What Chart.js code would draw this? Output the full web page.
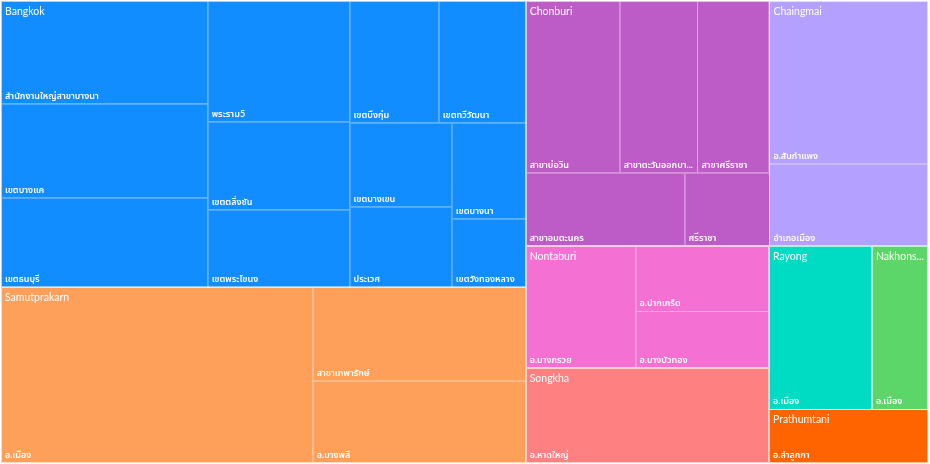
<!DOCTYPE html>
<html>
<head>
<meta charset="utf-8">
<script src="https://cdn.jsdelivr.net/npm/chart.js@4.4.1/dist/chart.umd.min.js"></script>
<style>
  html, body { margin: 0; padding: 0; background: #fff; }
  #wrap { width: 930px; height: 464px; }
</style>
</head>
<body>
<div id="wrap"><canvas id="treemap" width="930" height="464"></canvas></div>
<script>
// Province groups (order as read, largest first)
const provinces = ['Bangkok', 'Samutprakarn', 'Chonburi', 'Chaingmai', 'Nontaburi',
  'Songkha', 'Rayong', 'Nakhonsawan', 'Prathumtani'];

// Branches and their values, with the province each belongs to
const branchNames = [
  'สำนักงานใหญ่สาขาบางนา', 'เขตบางแค', 'เขตธนบุรี', 'พระราม5', 'เขตตลิ่งชัน', 'เขตพระโขนง',
  'เขตบึงกุ่ม', 'เขตทวีวัฒนา', 'เขตบางเขน', 'ประเวศ', 'เขตบางนา', 'เขตวังทองหลาง',
  'อ.เมือง', 'สาขาเทพารักษ์', 'อ.บางพลี',
  'สาขาบ่อวิน', 'สาขาตะวันออกบางนา', 'สาขาศรีราชา', 'สาขาอมตะนคร', 'ศรีราชา',
  'อ.สันกำแพง', 'อำเภอเมือง',
  'อ.บางกรวย', 'อ.ปากเกร็ด', 'อ.บางบัวทอง',
  'อ.หาดใหญ่',
  'อ.เมือง',
  'อ.เมือง',
  'อ.ลำลูกกา'
];
const branchProvince = [
  0, 0, 0, 0, 0, 0, 0, 0, 0, 0, 0, 0,
  1, 1, 1,
  2, 2, 2, 2, 2,
  3, 3,
  4, 4, 4,
  5,
  6,
  7,
  8
];
const branchValues = [
  213, 195, 186, 172, 125, 111, 109, 106, 86, 83, 71, 51,
  549, 200, 175,
  162, 134, 124, 116, 62,
  259, 130,
  135, 88, 76,
  232,
  169,
  92,
  86
];

// Colours per province
const palette = ['#118DFF', '#FFA05A', '#BE5CC7', '#B4A0FF', '#F570D3',
  '#FE8080', '#00DCC3', '#5CD668', '#FF6400'];

const W = 927;
const H = 462;
const PHI = (1 + Math.sqrt(5)) / 2;
const FONT = "'Segoe UI', Lato, 'Noto Sans Thai', 'Noto Sans', sans-serif";

/**
 * Lays out nodes in [x0,x1]x[y0,y1] with the squarified algorithm (golden ratio).
 * Each node gets x0, y0, x1, y1 set.
 */
function squarify(nodes, x0, y0, x1, y1) {
  let value = nodes.reduce((s, n) => s + n.value, 0);
  let i0 = 0, i1 = 0;
  const n = nodes.length;
  while (i0 < n) {
    const dx = x1 - x0, dy = y1 - y0;
    let sum = nodes[i1++].value;
    let minV = sum, maxV = sum;
    const alpha = Math.max(dy / dx, dx / dy) / (value * PHI);
    let beta = sum * sum * alpha;
    let minRatio = Math.max(maxV / beta, beta / minV);
    for (; i1 < n; ++i1) {
      const v = nodes[i1].value;
      sum += v;
      if (v < minV) minV = v;
      if (v > maxV) maxV = v;
      beta = sum * sum * alpha;
      const ratio = Math.max(maxV / beta, beta / minV);
      if (ratio > minRatio) { sum -= v; break; }
      minRatio = ratio;
    }
    const row = nodes.slice(i0, i1);
    if (dx < dy) {
      const yEnd = i1 < n ? y0 + dy * sum / value : y1;
      let x = x0;
      row.forEach((node, k) => {
        const nx = k === row.length - 1 ? x1 : x + dx * node.value / sum;
        Object.assign(node, { x0: x, y0, x1: nx, y1: yEnd });
        x = nx;
      });
      y0 = yEnd;
    } else {
      const xEnd = i1 < n ? x0 + dx * sum / value : x1;
      let y = y0;
      row.forEach((node, k) => {
        const ny = k === row.length - 1 ? y1 : y + dy * node.value / sum;
        Object.assign(node, { x0, y0: y, x1: xEnd, y1: ny });
        y = ny;
      });
      x0 = xEnd;
    }
    value -= sum;
    i0 = i1;
  }
}

/**
 * Builds the two-level layout from the data arrays.
 */
function buildLayout() {
  const groups = provinces.map((name, i) => {
    const children = [];
    branchNames.forEach((b, j) => {
      if (branchProvince[j] === i) children.push({ name: b, value: branchValues[j] });
    });
    children.sort((a, b) => b.value - a.value);
    return { name, color: palette[i], children, value: children.reduce((s, c) => s + c.value, 0) };
  });
  groups.sort((a, b) => b.value - a.value);
  squarify(groups, 0, 0, W, H);
  groups.forEach(g => squarify(g.children, g.x0, g.y0, g.x1, g.y1));
  return groups;
}

function fitText(ctx, text, maxWidth) {
  if (ctx.measureText(text).width <= maxWidth) return text;
  let t = text;
  while (t.length > 1 && ctx.measureText(t + '...').width > maxWidth) t = t.slice(0, -1);
  return t + '...';
}

const treemapPlugin = {
  id: 'treemap',
  afterDatasetsDraw(chart) {
    const { ctx, scales: { x, y } } = chart;
    const groups = buildLayout();
    const px = v => x.getPixelForValue(v);
    const py = v => y.getPixelForValue(v);

    ctx.save();
    groups.forEach(g => {
      g.children.forEach(c => {
        const l = px(c.x0), t = py(c.y0), r = px(c.x1), b = py(c.y1);
        ctx.fillStyle = g.color;
        ctx.fillRect(l, t, r - l, b - t);
        ctx.strokeStyle = 'rgba(255,255,255,0.25)';
        ctx.lineWidth = 1;
        ctx.strokeRect(Math.round(l) + 0.5, Math.round(t) + 0.5, Math.round(r - l) - 1, Math.round(b - t) - 1);
      });
    });

    groups.forEach(g => {
      const l = px(g.x0), t = py(g.y0), r = px(g.x1), b = py(g.y1);
      ctx.strokeStyle = 'rgba(255,255,255,0.5)';
      ctx.lineWidth = 1;
      ctx.strokeRect(Math.round(l) + 0.5, Math.round(t) + 0.5, Math.round(r - l) - 1, Math.round(b - t) - 1);

      ctx.fillStyle = '#ffffff';
      ctx.textBaseline = 'alphabetic';
      ctx.font = `10.5px ${FONT}`;
      ctx.fillText(fitText(ctx, g.name, r - l - 5), l + 4, t + 14);

      ctx.font = `600 9px ${FONT}`;
      g.children.forEach(c => {
        const cl = px(c.x0), cr = px(c.x1), cb = py(c.y1);
        ctx.fillText(fitText(ctx, c.name, cr - cl - 6), cl + 4, cb - 5);
      });
    });
    ctx.restore();
  }
};

function init() {
  const ctx = document.getElementById('treemap').getContext('2d');
  new Chart(ctx, {
    type: 'scatter',
    data: { datasets: [{ data: [] }] },
    options: {
      responsive: false,
      animation: false,
      layout: { padding: { left: 1, top: 1, right: 2, bottom: 1 } },
      plugins: { legend: { display: false }, tooltip: { enabled: false } },
      scales: {
        x: { type: 'linear', min: 0, max: W, display: false },
        y: { type: 'linear', min: 0, max: H, reverse: true, display: false }
      }
    },
    plugins: [treemapPlugin]
  });
}

document.addEventListener('DOMContentLoaded', init);
</script>
</body>
</html>
